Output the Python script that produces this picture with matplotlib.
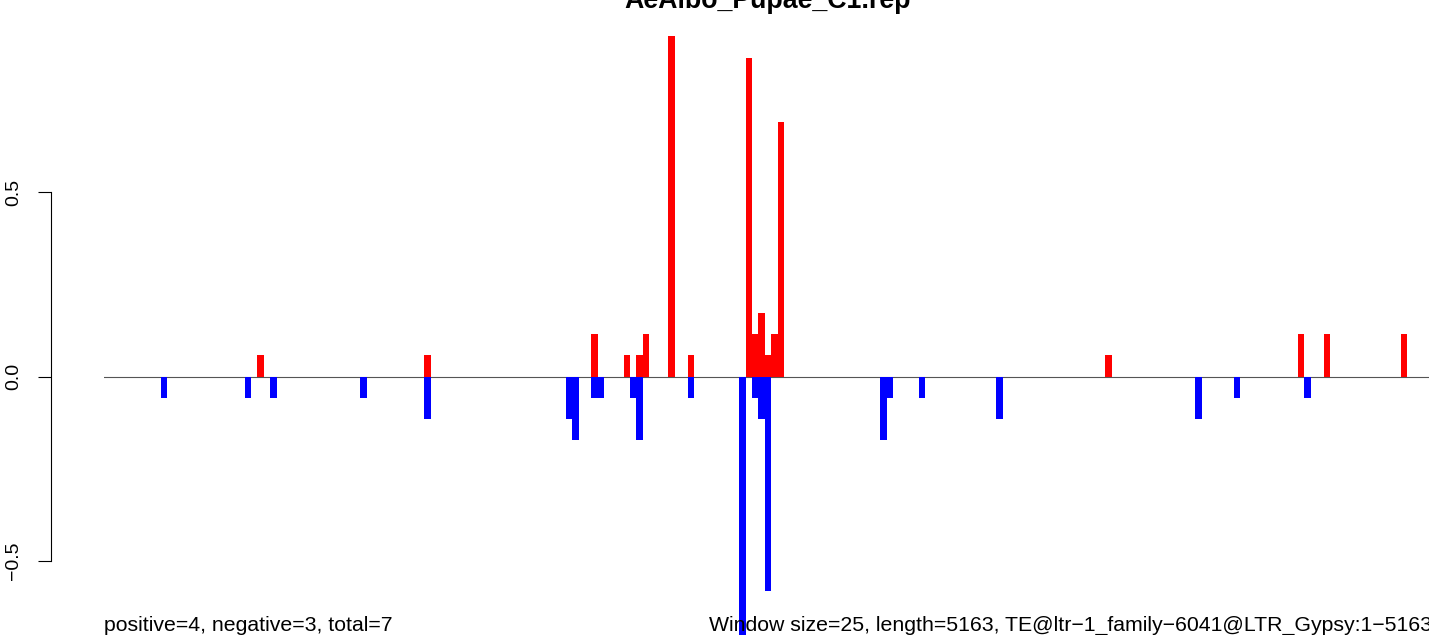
import numpy as np
import matplotlib
matplotlib.use("Agg")
import matplotlib.pyplot as plt

plt.rcParams['font.family'] = ['Liberation Sans', 'DejaVu Sans']

# window index (25 bp windows) and values
pos_idx = [15, 41, 67, 72, 74, 75, 79, 82, 91, 92, 93, 94, 95, 96, 147, 177, 181, 193]
pos_val = [0.057, 0.057, 0.114, 0.057, 0.057, 0.114, 0.924, 0.057, 0.864, 0.114,
           0.171, 0.057, 0.114, 0.691, 0.057, 0.114, 0.114, 0.114]

neg_idx = [0, 13, 17, 31, 41, 63, 64, 67, 68, 73, 74, 82, 90, 92, 93, 94,
           112, 113, 118, 130, 161, 167, 178]
neg_val = [-0.057, -0.057, -0.057, -0.057, -0.114, -0.114, -0.171, -0.057, -0.057,
           -0.057, -0.171, -0.057, -0.80, -0.057, -0.114, -0.58,
           -0.171, -0.057, -0.057, -0.114, -0.114, -0.057, -0.057]

title = "AeAlbo_Pupae_C1.rep"
left_note = "positive=4, negative=3, total=7"
right_note = "Window size=25, length=5163, TE@ltr\u22121_family\u22126041@LTR_Gypsy:1\u22125163"

W, H = 1429, 635
fig = plt.figure(figsize=(W / 100, H / 100), dpi=100)

# plot region: x from 104 px to 1432 px, full height
px_step = 6.424
x0_px = 161.0
left_px, right_px = 104.0, 1432.0
ax = fig.add_axes([left_px / W, 0, (right_px - left_px) / W, 1])
ax.set_xlim((left_px - x0_px) / px_step, (right_px - x0_px) / px_step)
ax.set_ylim(-(H - 376.5) / 369.0, 376.5 / 369.0)

ax.axhline(0, color='#555555', lw=0.8, zorder=1)
ax.bar(pos_idx, pos_val, width=1.0, align='edge', color='red', linewidth=0, zorder=2)
ax.bar(neg_idx, neg_val, width=1.0, align='edge', color='blue', linewidth=0, zorder=2)

# R style y axis, 53 px left of the plot region
for s in ['top', 'right', 'bottom']:
    ax.spines[s].set_visible(False)
ax.spines['left'].set_position(('outward', 53 * 0.72))
ax.spines['left'].set_bounds(-0.5, 0.5)
ax.spines['left'].set_linewidth(0.8)
ax.set_xticks([])
ax.set_yticks([-0.5, 0.0, 0.5])
ax.set_yticklabels(['\u22120.5', '0.0', '0.5'], rotation=90, va='center', fontsize=14)
ax.tick_params(axis='y', length=13 * 0.72, width=0.8, pad=11.5)

fig.text(0.5 * (left_px + right_px) / W, 1 - 7.5 / H, title, ha='center', va='baseline',
         fontsize=19.3, fontweight='bold')
fig.text(left_px / W, 1 - 631 / H, left_note, ha='left', va='baseline', fontsize=15.3)
fig.text(right_px / W, 1 - 631 / H, right_note, ha='right', va='baseline', fontsize=15.3)

fig.savefig('out.png', dpi=100)
